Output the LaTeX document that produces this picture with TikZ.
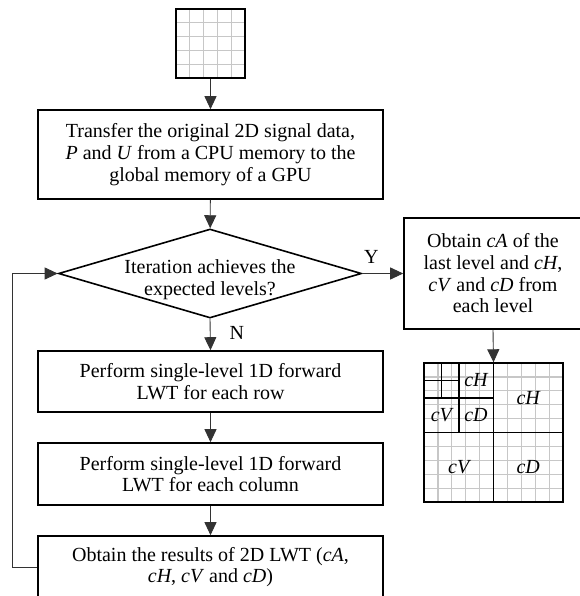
\documentclass[tikz,border=0pt]{standalone}
\usepackage{fontspec}
\setmainfont{Liberation Serif}
\usetikzlibrary{arrows.meta,positioning,shapes.geometric}
\tikzset{
  box/.style={draw, line width=1.6pt, align=center, minimum width=345pt, minimum height=62pt, inner sep=0pt, font=\fontsize{20}{21.7}\selectfont},
  sidebox/.style={draw, line width=1.6pt, align=center, minimum width=178pt, minimum height=111pt, inner sep=0pt, font=\fontsize{20}{21.7}\selectfont},
  decision/.style={draw, diamond, line width=1.6pt, minimum width=303pt, minimum height=89pt, inner sep=0pt},
  imgbox/.style={draw, line width=1.4pt, inner sep=0pt},
  gridline/.style={line width=1.2pt, black!22},
  subline/.style={line width=1.6pt, black},
  coef/.style={font=\fontsize{20}{21.7}\selectfont\itshape, inner sep=0pt},
  tag/.style={font=\fontsize{20}{21.7}\selectfont, inner sep=1pt},
  line/.style={-{Triangle[width=12pt,length=13pt]}, line width=0.9pt, draw=black!80}
}

\begin{document}
\begin{tikzpicture}[x=1pt,y=-1pt]
  \useasboundingbox (0,0) rectangle (579,596);
  % input signal
  \foreach \k in {1,...,4} {
    \draw[gridline] ({176+13.8*\k},9) -- ++(0,69);
    \draw[gridline] (176,{9+13.8*\k}) -- ++(69,0);
  }
  \node[imgbox, minimum width=69pt, minimum height=69pt] (img) at (210.5,43.5) {};
  % flow
  \node[box, minimum height=89pt] (transfer) at (210.5,154.5) {Transfer the original 2D signal data,\\\textit{P} and \textit{U} from a CPU memory to the\\global memory of a GPU};
  \node[decision, label={[tag, align=center, yshift=-6pt]center:Iteration achieves the\\expected levels?}] (check) at (210,273.5) {};
  \node[box, minimum height=61pt] (rows) at (210.5,381.5) {Perform single-level 1D forward\\LWT for each row};
  \node[box] (cols) at (210.5,474) {Perform single-level 1D forward\\LWT for each column};
  \node[box] (result) at (210.5,567) {Obtain the results of 2D LWT (\textit{cA},\\\textit{cH}, \textit{cV} and \textit{cD})};
  \node[sidebox] (levels) at (493,273.5) {Obtain \textit{cA} of the\\last level and \textit{cH},\\\textit{cV} and \textit{cD} from\\each level};
  % output coefficients
  \foreach \k in {1,...,9} {
    \draw[gridline] ({424+13.9*\k},363) -- ++(0,139);
    \draw[gridline] (424,{363+13.9*\k}) -- ++(139,0);
  }
  \node[imgbox, minimum width=139pt, minimum height=139pt] (coeffs) at (493.5,432.5) {};
  \draw[subline] (coeffs.north) -- (coeffs.south);
  \draw[subline] (coeffs.west) -- (coeffs.east);
  \draw[subline] (458.75,363) -- (458.75,432.5);
  \draw[subline] (424,397.75) -- (493.5,397.75);
  \draw[subline] (441.4,363) -- (441.4,397.75);
  \draw[subline] (424,380.4) -- (458.75,380.4);
  \node[coef] (cH2) at (476,380.4) {cH};
  \node[coef] (cV2) at (441.4,415.1) {cV};
  \node[coef] (cD2) at (476,415.1) {cD};
  \node[coef] (cH1) at (528.2,397.75) {cH};
  \node[coef] (cV1) at (458.75,467.25) {cV};
  \node[coef] (cD1) at (528.2,467.25) {cD};
  % connectors
  \draw[line] (img) -- (transfer);
  \draw[line] (transfer) -- (check);
  \draw[line] (check.east) -- node[tag, pos=0.22, above=9pt] (yes) {Y} (levels.west);
  \draw[line] (check.south) -- node[tag, pos=0.45, right=18pt] (no) {N} (rows.north);
  \draw[line] (rows) -- (cols);
  \draw[line] (cols) -- (result);
  \draw[line] (levels.south) -- (coeffs.north);
  \draw[line] (result.west) -- ++(-25,0) |- (check.west);
\end{tikzpicture}
\end{document}
